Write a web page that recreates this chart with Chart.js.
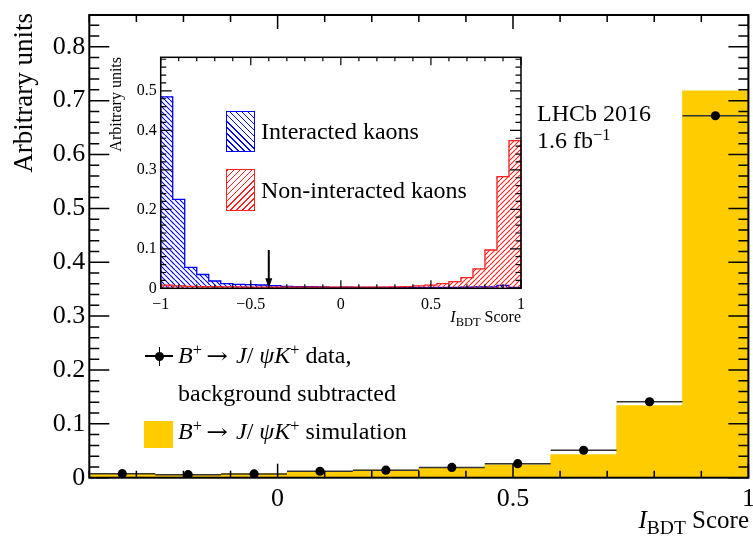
<!DOCTYPE html>
<html>
<head>
<meta charset="utf-8">
<script src="https://cdn.jsdelivr.net/npm/chart.js@4.4.1/dist/chart.umd.min.js"></script>
<style>
html,body{margin:0;padding:0;background:#fff;}
#wrap{position:relative;width:753px;height:536px;overflow:hidden;font-family:"Liberation Serif","Times New Roman",serif;color:#000;}
canvas{position:absolute;display:block;}
#main{left:0;top:0;width:753px;height:536px;}
#inset{left:100px;top:40px;width:440px;height:300px;}
.t{position:absolute;white-space:nowrap;line-height:1;}
.s24{font-size:24px;}
sup{font-size:0.68em;line-height:0;vertical-align:0.48em;}
sub{font-size:0.78em;line-height:0;vertical-align:-0.3em;}
.rot{transform-origin:0 0;transform:rotate(-90deg);width:300px;text-align:right;}
.box{position:absolute;box-sizing:border-box;}
.arr{display:inline-block;font-family:"DejaVu Serif",serif;font-size:0.9em;transform:scaleX(1.2);margin:0 10px 0 6px;}
</style>
</head>
<body>
<div id="wrap">
<canvas id="main" width="753" height="536"></canvas>
<canvas id="inset" width="440" height="300"></canvas>

<!-- main axis titles -->
<div class="t rot" style="left:10px;top:313px;font-size:27px;">Arbitrary units</div>
<div class="t" style="right:4px;top:507px;font-size:25px;"><i>I</i><sub>BDT</sub> Score</div>

<!-- inset axis titles -->
<div class="t rot" style="left:108px;top:357px;font-size:16px;">Arbitrary units</div>
<div class="t" style="right:232px;top:309px;font-size:16px;"><i>I</i><sub>BDT</sub> Score</div>

<!-- LHCb label -->
<div class="t s24" style="left:537px;top:101px;">LHCb 2016</div>
<div class="t s24" style="left:537px;top:128px;">1.6 fb<sup>−1</sup></div>

<!-- main legend -->
<div class="box" style="left:145px;top:355px;width:28px;height:1.6px;background:#000;"></div>
<div class="box" style="left:158.5px;top:347px;width:1.6px;height:19px;background:#000;"></div>
<div class="box" style="left:154.5px;top:351.5px;width:9.5px;height:9.5px;border-radius:50%;background:#000;"></div>
<div class="t s24" style="left:178px;top:343px;"><i>B</i><sup>+</sup><span class="arr">→</span><i>J</i>/ <i>ψ</i><i>K</i><sup>+</sup> data,</div>
<div class="t s24" style="left:178px;top:381px;">background subtracted</div>
<div class="box" style="left:144px;top:421px;width:29px;height:27px;background:#ffcc00;"></div>
<div class="t s24" style="left:178px;top:419px;"><i>B</i><sup>+</sup><span class="arr">→</span><i>J</i>/ <i>ψ</i><i>K</i><sup>+</sup> simulation</div>

<!-- inset legend -->
<div class="box" style="left:226px;top:111px;width:29px;height:41px;border:1.5px solid #0000ff;background:repeating-linear-gradient(45deg,transparent 0 3.3px,#0000ff 3.3px 4.3px);"></div>
<div class="t s24" style="left:261px;top:119px;">Interacted kaons</div>
<div class="box" style="left:226px;top:169px;width:29px;height:42px;border:1.5px solid #ff2020;background:repeating-linear-gradient(-45deg,transparent 0 3.3px,#ff2020 3.3px 4.3px);"></div>
<div class="t s24" style="left:261px;top:178px;">Non-interacted kaons</div>
</div>

<script>
// ---------------- data ----------------
// main plot: I_BDT score bins (centres), range -0.4 .. 1
const mainBinCenters = [-0.33, -0.19, -0.05, 0.09, 0.23, 0.37, 0.51, 0.65, 0.79, 0.93];
const simulationValues = [0.0075, 0.006, 0.0075, 0.011, 0.014, 0.0175, 0.024, 0.043, 0.134, 0.718];
const dataValues = [0.0075, 0.0056, 0.007, 0.012, 0.014, 0.019, 0.026, 0.051, 0.141, 0.672];
const dataHalfBin = 0.07;
const mainXTickValues = [0, 0.5, 1];

// inset: 30 bins, range -1 .. 1
const insetBinCenters = [-0.9667, -0.9, -0.8333, -0.7667, -0.7, -0.6333, -0.5667, -0.5, -0.4333, -0.3667,
  -0.3, -0.2333, -0.1667, -0.1, -0.0333, 0.0333, 0.1, 0.1667, 0.2333, 0.3,
  0.3667, 0.4333, 0.5, 0.5667, 0.6333, 0.7, 0.7667, 0.8333, 0.9, 0.9667];
const interactedKaons = [0.485, 0.225, 0.053, 0.035, 0.0185, 0.012, 0.010, 0.0093, 0.0084, 0.0068,
  0.005, 0.004, 0.004, 0.0034, 0.0025, 0.003, 0.0025, 0.0025, 0.002, 0.002,
  0.002, 0.002, 0.002, 0.002, 0.0025, 0.003, 0.0035, 0.0035, 0.0076, 0.0025];
const nonInteractedKaons = [0.008, 0.006, 0.005, 0.004, 0.004, 0.0035, 0.0035, 0.003, 0.003, 0.003,
  0.003, 0.003, 0.003, 0.003, 0.003, 0.003, 0.003, 0.003, 0.003, 0.0034,
  0.004, 0.006, 0.008, 0.012, 0.017, 0.027, 0.049, 0.097, 0.283, 0.374];
const cutValue = -0.4;
const cutArrowTop = 0.097;

// ---------------- helpers ----------------
function hatch(color, dir, size) {
  const c = document.createElement('canvas');
  c.width = c.height = size;
  const g = c.getContext('2d');
  g.strokeStyle = color; g.lineWidth = 1.1;
  g.beginPath();
  for (let o = -size; o <= size; o += size) {
    if (dir === 'back') { g.moveTo(o, 0); g.lineTo(o + size, size); }
    else { g.moveTo(o, size); g.lineTo(o + size, 0); }
  }
  g.stroke();
  return g.createPattern(c, 'repeat');
}

function tickValues(min, max, step) {
  const out = [];
  for (let k = Math.ceil(min / step - 1e-9); k * step <= max + 1e-9; k++) out.push(k * step);
  return out;
}
function isMajor(v, major) { const r = v / major; return Math.abs(r - Math.round(r)) < 1e-6; }

const rootFrame = {
  id: 'rootFrame',
  beforeDatasetDraw(chart, args, opts) {
    const eb = opts.errorBars;
    if (!eb || args.index !== eb.dataset) return;
    const { ctx, scales: { x, y } } = chart;
    ctx.save();
    ctx.strokeStyle = eb.color; ctx.lineWidth = eb.width;
    eb.centers.forEach((c, i) => {
      const py = y.getPixelForValue(eb.values[i]);
      ctx.beginPath();
      ctx.moveTo(x.getPixelForValue(c - eb.half), py);
      ctx.lineTo(x.getPixelForValue(c + eb.half), py);
      ctx.stroke();
    });
    ctx.restore();
  },
  afterDatasetDraw(chart, args, opts) {
    // histogram step outline drawn from the library's bar elements
    const oc = opts.outlines && opts.outlines[args.index];
    if (!oc) return;
    const bars = args.meta.data;
    if (!bars.length) return;
    const { ctx } = chart;
    ctx.save();
    ctx.strokeStyle = oc; ctx.lineWidth = 1.3; ctx.lineJoin = 'miter';
    ctx.beginPath();
    const b0 = bars[0];
    ctx.moveTo(b0.x - b0.width / 2, b0.base);
    bars.forEach(b => {
      ctx.lineTo(b.x - b.width / 2, b.y);
      ctx.lineTo(b.x + b.width / 2, b.y);
    });
    const bl = bars[bars.length - 1];
    ctx.lineTo(bl.x + bl.width / 2, bl.base);
    ctx.stroke();
    ctx.restore();
  },
  afterDatasetsDraw(chart, args, opts) {
    const { ctx, chartArea: a, scales: { x, y } } = chart;
    ctx.save();
    ctx.strokeStyle = '#000';
    ctx.lineWidth = opts.tickWidth;
    ctx.beginPath();
    tickValues(x.min, x.max, opts.xMinor).forEach(v => {
      const px = x.getPixelForValue(v);
      const L = isMajor(v, opts.xMajor) ? opts.xTick : opts.xTick / 2;
      ctx.moveTo(px, a.bottom); ctx.lineTo(px, a.bottom - L);
      ctx.moveTo(px, a.top); ctx.lineTo(px, a.top + L);
    });
    tickValues(y.min, y.max, opts.yMinor).forEach(v => {
      const py = y.getPixelForValue(v);
      const L = isMajor(v, opts.yMajor) ? opts.yTick : opts.yTick / 2;
      ctx.moveTo(a.left, py); ctx.lineTo(a.left + L, py);
      ctx.moveTo(a.right, py); ctx.lineTo(a.right - L, py);
    });
    ctx.stroke();
    ctx.lineWidth = opts.frameWidth;
    ctx.strokeRect(a.left, a.top, a.right - a.left, a.bottom - a.top);
    if (opts.arrow) {
      const px = x.getPixelForValue(opts.arrow.x);
      const pt = y.getPixelForValue(opts.arrow.top);
      const pb = y.getPixelForValue(0);
      ctx.lineWidth = 2;
      ctx.beginPath(); ctx.moveTo(px, pt); ctx.lineTo(px, pb - 8); ctx.stroke();
      ctx.fillStyle = '#000';
      ctx.beginPath(); ctx.moveTo(px - 3.5, pb - 10); ctx.lineTo(px + 3.5, pb - 10); ctx.lineTo(px, pb); ctx.closePath(); ctx.fill();
    }
    ctx.restore();
  }
};

const serif = 'Liberation Serif';

// ---------------- main chart ----------------
new Chart(document.getElementById('main'), {
  type: 'bar',
  data: {
    datasets: [
      {
        type: 'bar',
        data: mainBinCenters.map((c, i) => ({ x: c, y: simulationValues[i] })),
        backgroundColor: '#ffcc00', borderWidth: 0,
        barPercentage: 1, categoryPercentage: 1, order: 2
      },
      {
        type: 'scatter',
        data: mainBinCenters.map((c, i) => ({ x: c, y: dataValues[i] })),
        pointRadius: 4.6, pointBackgroundColor: '#000', pointBorderWidth: 0, order: 1
      }
    ]
  },
  options: {
    responsive: false, animation: false, devicePixelRatio: 1,
    layout: { padding: { left: 0, right: 4, top: 15, bottom: 0 } },
    plugins: {
      legend: { display: false }, tooltip: { enabled: false },
      rootFrame: {
        xMajor: 0.5, xMinor: 0.1, yMajor: 0.1, yMinor: 0.02,
        xTick: 14, yTick: 20, tickWidth: 1.5, frameWidth: 2,
        errorBars: { dataset: 1, centers: mainBinCenters, values: dataValues, half: dataHalfBin, color: '#333', width: 1.5 }
      }
    },
    scales: {
      x: {
        type: 'linear', min: -0.4, max: 1, offset: false,
        grid: { display: false, drawTicks: false }, border: { display: false },
        afterBuildTicks: s => { s.ticks = mainXTickValues.map(v => ({ value: v })); },
        afterFit: s => { s.height = 58.3; s.paddingLeft = 0; s.paddingRight = 0; },
        ticks: { callback: v => String(v), font: { family: serif, size: 26 }, color: '#000', padding: 6, maxRotation: 0, autoSkip: false }
      },
      y: {
        type: 'linear', min: 0, max: 0.859,
        grid: { display: false, drawTicks: false }, border: { display: false },
        afterFit: s => { s.width = 89.3; s.paddingTop = 0; s.paddingBottom = 0; },
        ticks: { stepSize: 0.1, includeBounds: false, font: { family: serif, size: 26 }, color: '#000', padding: 4 }
      }
    }
  },
  plugins: [rootFrame]
});

// ---------------- inset chart ----------------
const minusFmt = v => (v < 0 ? '\u2212' + Math.abs(v) : String(v));
new Chart(document.getElementById('inset'), {
  type: 'bar',
  data: {
    datasets: [
      {
        label: 'Interacted kaons',
        data: insetBinCenters.map((c, i) => ({ x: c, y: interactedKaons[i] })),
        backgroundColor: hatch('#0000ff', 'back', 5), borderWidth: 0,
        barPercentage: 1, categoryPercentage: 1, grouped: false, order: 2
      },
      {
        label: 'Non-interacted kaons',
        data: insetBinCenters.map((c, i) => ({ x: c, y: nonInteractedKaons[i] })),
        backgroundColor: hatch('#ff2020', 'fwd', 5), borderWidth: 0,
        barPercentage: 1, categoryPercentage: 1, grouped: false, order: 1
      }
    ]
  },
  options: {
    responsive: false, animation: false, devicePixelRatio: 1,
    layout: { padding: { left: 0, right: 19, top: 17.3, bottom: 0 } },
    plugins: {
      legend: { display: false }, tooltip: { enabled: false },
      rootFrame: {
        xMajor: 0.5, xMinor: 0.1, yMajor: 0.1, yMinor: 0.02,
        xTick: 8, yTick: 11, tickWidth: 1.2, frameWidth: 1.5,
        outlines: { 0: '#0000ff', 1: '#ff2020' },
        arrow: { x: cutValue, top: cutArrowTop }
      }
    },
    scales: {
      x: {
        type: 'linear', min: -1, max: 1, offset: false,
        grid: { display: false, drawTicks: false }, border: { display: false },
        afterFit: s => { s.height = 51.7; s.paddingLeft = 0; s.paddingRight = 0; },
        ticks: { stepSize: 0.5, callback: minusFmt, font: { family: serif, size: 16 }, color: '#000', padding: 7, maxRotation: 0, autoSkip: false }
      },
      y: {
        type: 'linear', min: 0, max: 0.585,
        grid: { display: false, drawTicks: false }, border: { display: false },
        afterFit: s => { s.width = 60.7; s.paddingTop = 0; s.paddingBottom = 0; },
        ticks: { stepSize: 0.1, includeBounds: false, font: { family: serif, size: 16 }, color: '#000', padding: 4 }
      }
    }
  },
  plugins: [rootFrame]
});
</script>
</body>
</html>
